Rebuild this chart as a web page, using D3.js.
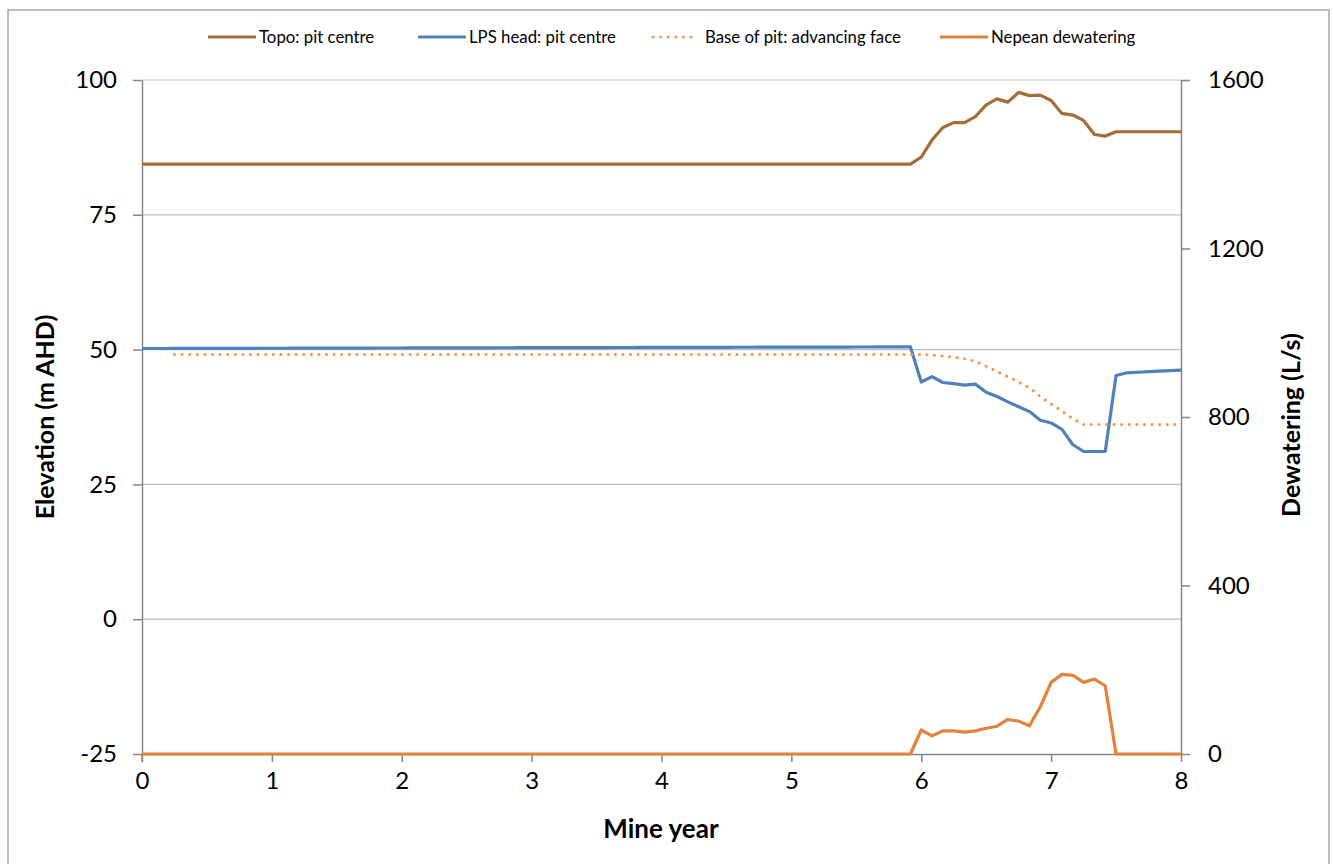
<!DOCTYPE html>
<html><head><meta charset="utf-8">
<script src="https://cdn.jsdelivr.net/npm/d3@7/dist/d3.min.js"></script>
<style>body{margin:0;background:#fff}svg{display:block}text{font-family:Lato,"Open Sans",sans-serif}</style>
</head><body>
<svg id="c" width="1333" height="864"></svg>
<script>
// months 0..96 (mine year = month/12)
const months = d3.range(0, 97);
const topoTail = [84.4,85.7,88.9,91.2,92.1,92.1,93.2,95.4,96.5,95.9,97.7,97.1,97.2,96.2,93.8,93.5,92.5,89.9,89.6,90.4,90.4,90.4,90.4,90.4,90.4,90.4]; // months 71..96
const lpsTail = [50.5,44.0,45.0,43.9,43.7,43.4,43.6,42.1,41.3,40.3,39.4,38.5,36.9,36.4,35.2,32.4,31.1,31.1,31.1,45.2,45.7,45.8,45.9,46.0,46.1,46.2]; // months 71..96
const baseTail = [49.1,49.1,49.0,48.8,48.6,48.3,47.8,46.9,45.9,45.0,44.0,42.9,41.3,39.9,38.6,37.2,36.1,36.1,36.1,36.1,36.1,36.1,36.1,36.1,36.1,36.1]; // months 71..96
const nepeanTail = [0,57,43,55,55,52,55,61,66,82,78,67,112,170,189,187,170,178,162,0,0,0,0,0,0,0]; // months 71..96

const topoFlat = 84.4, lpsStart = 50.2, baseFlat = 49.1, baseStartMonth = 3;
const topo = months.map(m => m < 71 ? topoFlat : topoTail[m-71]);
const lps = months.map(m => m < 71 ? lpsStart + (50.5-lpsStart)*m/71 : lpsTail[m-71]);
const base = months.map(m => m < baseStartMonth ? null : (m < 71 ? baseFlat : baseTail[m-71]));
const nepean = months.map(m => m < 71 ? 0 : nepeanTail[m-71]);

const xTicks = [0,1,2,3,4,5,6,7,8];
const yTicks = [-25,0,25,50,75,100];
const y2Ticks = [0,400,800,1200,1600];

const series = [
  {name:"Topo: pit centre", data:topo, axis:"L", color:"#A46E38", dash:null},
  {name:"LPS head: pit centre", data:lps, axis:"L", color:"#4F81BD", dash:null},
  {name:"Base of pit: advancing face", data:base, axis:"L", color:"#F79646", dash:"0.1,7.5"},
  {name:"Nepean dewatering", data:nepean, axis:"R", color:"#E3823A", dash:null}
];

const svg = d3.select("#c");
const L = 142, R = 1181, T = 80, B = 754;
const x = d3.scaleLinear().domain([0,8]).range([L,R]);
const y = d3.scaleLinear().domain([-25,100]).range([B,T]);
const y2 = d3.scaleLinear().domain([0,1600]).range([B,T]);
const fmt = d => String(d);

// outer border
svg.append("rect").attr("x",8).attr("y",10).attr("width",1321).attr("height",900)
  .attr("fill","none").attr("stroke","#A6A6A6").attr("stroke-width",1.5);

// gridlines
svg.append("g").selectAll("line").data(yTicks.filter(d=>d>-25)).join("line")
  .attr("x1",L).attr("x2",R).attr("y1",d=>y(d)).attr("y2",d=>y(d))
  .attr("stroke","#BFBFBF").attr("stroke-width",1.2);

// axes
const fs = 24;
const gL = svg.append("g").attr("transform",`translate(${L},0)`)
  .call(d3.axisLeft(y).tickValues(yTicks).tickFormat(fmt).tickSize(9).tickPadding(16).tickSizeOuter(0));
const gR = svg.append("g").attr("transform",`translate(${R},0)`)
  .call(d3.axisRight(y2).tickValues(y2Ticks).tickFormat(fmt).tickSize(9).tickPadding(18).tickSizeOuter(0));
const gX = svg.append("g").attr("transform",`translate(0,${B})`)
  .call(d3.axisBottom(x).tickValues(xTicks).tickFormat(fmt).tickSize(8).tickPadding(10).tickSizeOuter(0));
[gL,gR,gX].forEach(g=>{
  g.select(".domain").attr("stroke","#868686").attr("stroke-width",1.5);
  g.selectAll(".tick line").attr("stroke","#868686").attr("stroke-width",1.5);
  g.selectAll(".tick text").attr("font-size",fs).attr("fill","#000").style("font-family","Lato");
});
// extend left axis line below to tick length
svg.append("line").attr("x1",L).attr("x2",L).attr("y1",B).attr("y2",B+8).attr("stroke","#868686").attr("stroke-width",1.5);

// lines
series.forEach(s=>{
  const yy = s.axis==="L" ? y : y2;
  const line = d3.line().defined(d=>d!=null).x((d,i)=>x(months[i]/12)).y(d=>yy(d));
  svg.append("path").datum(s.data).attr("d",line).attr("fill","none")
    .attr("stroke",s.color).attr("stroke-width",s.dash?3:3.2)
    .attr("stroke-linecap",s.dash?"round":"butt").attr("stroke-linejoin","round")
    .attr("stroke-dasharray",s.dash);
});

// axis titles
svg.append("text").attr("transform",`translate(54,${(T+B)/2}) rotate(-90)`)
  .attr("text-anchor","middle").attr("font-size",25).attr("font-weight","bold").text("Elevation (m AHD)");
svg.append("text").attr("transform",`translate(1300,${(T+B)/2+8}) rotate(-90)`)
  .attr("text-anchor","middle").attr("font-size",25).attr("font-weight","bold").text("Dewatering (L/s)");
svg.append("text").attr("x",661).attr("y",838).attr("text-anchor","middle")
  .attr("font-size",26).attr("font-weight","bold").text("Mine year");

// legend
const legX = [208,418,653,940];
const lg = svg.append("g");
series.forEach((s,i)=>{
  const g = lg.append("g").attr("transform",`translate(${legX[i]},37)`);
  g.append("line").attr("x1",0).attr("x2",s.dash?44:48).attr("y1",0).attr("y2",0)
    .attr("stroke",s.color).attr("stroke-width",3)
    .attr("stroke-linecap",s.dash?"round":"butt").attr("stroke-dasharray",s.dash);
  g.append("text").attr("x",s.dash?52:51).attr("y",6).attr("font-size",16.8).attr("fill","#000").text(s.name);
});
</script>
</body></html>
